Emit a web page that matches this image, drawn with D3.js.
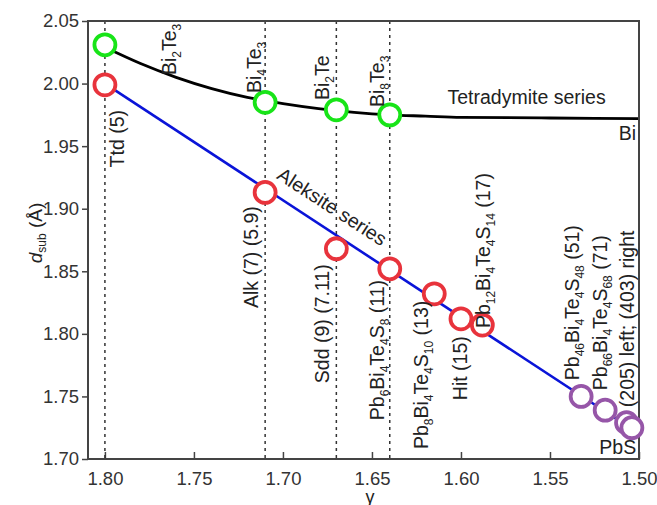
<!DOCTYPE html>
<meta charset="utf-8">
<style>
body { margin: 0; background: #fff; }
text { font-family: "Liberation Sans", Arial, sans-serif; fill: #222; }
.tick text { font-size: 18.5px; fill: #333; }
.lbl { font-size: 19.5px; }
</style>
<svg width="657" height="505"></svg>
<script src="https://cdn.jsdelivr.net/npm/d3@7"></script>
<script>

// tetradymite series (green)
var ttdX = [1.80, 1.71, 1.67, 1.64]
var ttdY = [2.031, 1.985, 1.979, 1.975]

// tetradymite curve
var curveX = [1.80, 1.78, 1.76, 1.74, 1.72, 1.70, 1.68, 1.66, 1.64, 1.62, 1.60, 1.55, 1.50]
var curveY = [2.029, 2.016, 2.005, 1.996, 1.989, 1.984, 1.980, 1.977, 1.975, 1.974, 1.973, 1.9725, 1.972]

// aleksite series (red)
var alkX = [1.80, 1.71, 1.67, 1.64, 1.615, 1.60, 1.588]
var alkY = [1.999, 1.913, 1.868, 1.852, 1.832, 1.812, 1.807]

// long-period members (purple)
var pbX = [1.5325, 1.519, 1.507, 1.504]
var pbY = [1.750, 1.739, 1.729, 1.725]

// aleksite trend line
var lineX = [1.80, 1.504]
var lineY = [2.000, 1.724]

var guideX = [1.80, 1.71, 1.67, 1.64]

var xTicks = [1.80, 1.75, 1.70, 1.65, 1.60, 1.55, 1.50]
var yTicks = [2.05, 2.00, 1.95, 1.90, 1.85, 1.80, 1.75, 1.70]

// annotations: text, x, y (data units), rotation, anchor
var labels = [
  ["Bi_2Te_3", 1.7602, 2.0068, -90, "start"],
  ["Bi_4Te_3", 1.7125, 1.9924, -90, "start"],
  ["Bi_2Te", 1.6744, 1.9868, -90, "start"],
  ["Bi_8Te_3", 1.6435, 1.9813, -90, "start"],
  ["Tetradymite series", 1.6076, 1.9837, 0, "start"],
  ["Bi", 1.5016, 1.9549, 0, "end"],
  ["Aleksite series", 1.7041, 1.9245, 33, "start"],
  ["Ttd (5)", 1.7893, 1.933, -90, "start"],
  ["Alk (7) (5.9)", 1.7142, 1.8206, -90, "start"],
  ["Sdd (9) (7.11)", 1.6744, 1.7606, -90, "start"],
  ["Pb_6Bi_4Te_4S_8 (11)", 1.643, 1.731, -90, "start"],
  ["Pb_8Bi_4Te_4S_10 (13)", 1.6188, 1.7079, -90, "start"],
  ["Hit (15)", 1.5964, 1.747, -90, "start"],
  ["Pb_12Bi_4Te_4S_14 (17)", 1.5835, 1.8046, -90, "start"],
  ["Pb_46Bi_4Te_4S_48 (51)", 1.5336, 1.763, -90, "start"],
  ["Pb_66Bi_4Te_4S_68 (71)", 1.5179, 1.755, -90, "start"],
  ["(205) left; (403) right", 1.5027, 1.7414, -90, "start"],
  ["PbS", 1.5016, 1.7039, 0, "end"]
]

var svg = d3.select("svg")
var mL = 88, mR = 639, mT = 21, mB = 459

var x = d3.scaleLinear().domain([1.8095, 1.50]).range([mL, mR])
var y = d3.scaleLinear().domain([1.70, 2.05]).range([mB, mT])

// axes
svg.append("g")
    .attr("transform", "translate(0," + mB + ")")
    .call(d3.axisBottom(x).tickValues(xTicks).tickFormat(d3.format(".2f")).tickSizeInner(-7).tickSizeOuter(0).tickPadding(13))
svg.append("g")
    .attr("transform", "translate(" + mL + ",0)")
    .call(d3.axisLeft(y).tickValues(yTicks).tickFormat(d3.format(".2f")).tickSizeInner(6).tickSizeOuter(0).tickPadding(3))
svg.selectAll(".domain").remove()
svg.selectAll(".tick line").attr("stroke", "#444").attr("stroke-width", 1.5)

// dotted guides
svg.selectAll(".guide")
  .data(guideX)
  .enter().append("line")
    .attr("x1", function(d) { return x(d) })
    .attr("x2", function(d) { return x(d) })
    .attr("y1", mT)
    .attr("y2", mB)
    .attr("stroke", "#333")
    .attr("stroke-width", 1.5)
    .attr("stroke-dasharray", "3,4")

// curves
var curvePts = curveX.map(function(d, i) { return [d, curveY[i]] })
svg.append("path")
  .attr("d", d3.line().x(function(d) { return x(d[0]) }).y(function(d) { return y(d[1]) }).curve(d3.curveMonotoneX)(curvePts))
  .attr("fill", "none")
  .attr("stroke", "#000")
  .attr("stroke-width", 2.8)

var linePts = lineX.map(function(d, i) { return [d, lineY[i]] })
svg.append("path")
  .attr("d", d3.line().x(function(d) { return x(d[0]) }).y(function(d) { return y(d[1]) })(linePts))
  .attr("fill", "none")
  .attr("stroke", "#0a14d8")
  .attr("stroke-width", 2.6)

// frame
svg.append("rect")
  .attr("x", mL).attr("y", mT)
  .attr("width", mR - mL).attr("height", mB - mT)
  .attr("fill", "none")
  .attr("stroke", "#444")
  .attr("stroke-width", 2)

function dots(xs, ys, color) {
  svg.append("g").selectAll("circle")
    .data(xs)
    .enter().append("circle")
      .attr("cx", function(d) { return x(d) })
      .attr("cy", function(d, i) { return y(ys[i]) })
      .attr("r", 10.5)
      .attr("fill", "#fff")
      .attr("stroke", color)
      .attr("stroke-width", 3.8)
}
dots(ttdX, ttdY, "#18e418")
dots(alkX, alkY, "#e8333c")
dots(pbX, pbY, "#9656a8")

// annotations with subscripts
labels.forEach(function(l) {
  var t = svg.append("text")
    .attr("class", "lbl")
    .attr("text-anchor", l[4])
    .attr("transform", "translate(" + x(l[1]) + "," + y(l[2]) + ") rotate(" + l[3] + ")")
  var parts = l[0].split(/(_\d+)/)
  var sub = false
  parts.forEach(function(p) {
    if (p === "") return
    if (p[0] === "_") {
      t.append("tspan").text(p.slice(1)).attr("font-size", "12px").attr("dy", 5)
      sub = true
    } else {
      t.append("tspan").text(p).attr("dy", sub ? -5 : 0)
      sub = false
    }
  })
})

// axis titles
var yl = svg.append("text")
  .attr("transform", "translate(42,233) rotate(-90)")
  .attr("text-anchor", "middle")
  .style("font-size", "19px")
yl.append("tspan").text("d").style("font-style", "italic")
yl.append("tspan").text("sub").style("font-size", "12px").attr("dy", 4)
yl.append("tspan").text(" (Å)").attr("dy", -4)

svg.append("text")
  .attr("x", 370)
  .attr("y", 503)
  .attr("text-anchor", "middle")
  .style("font-size", "18px")
  .text("γ")

</script>
